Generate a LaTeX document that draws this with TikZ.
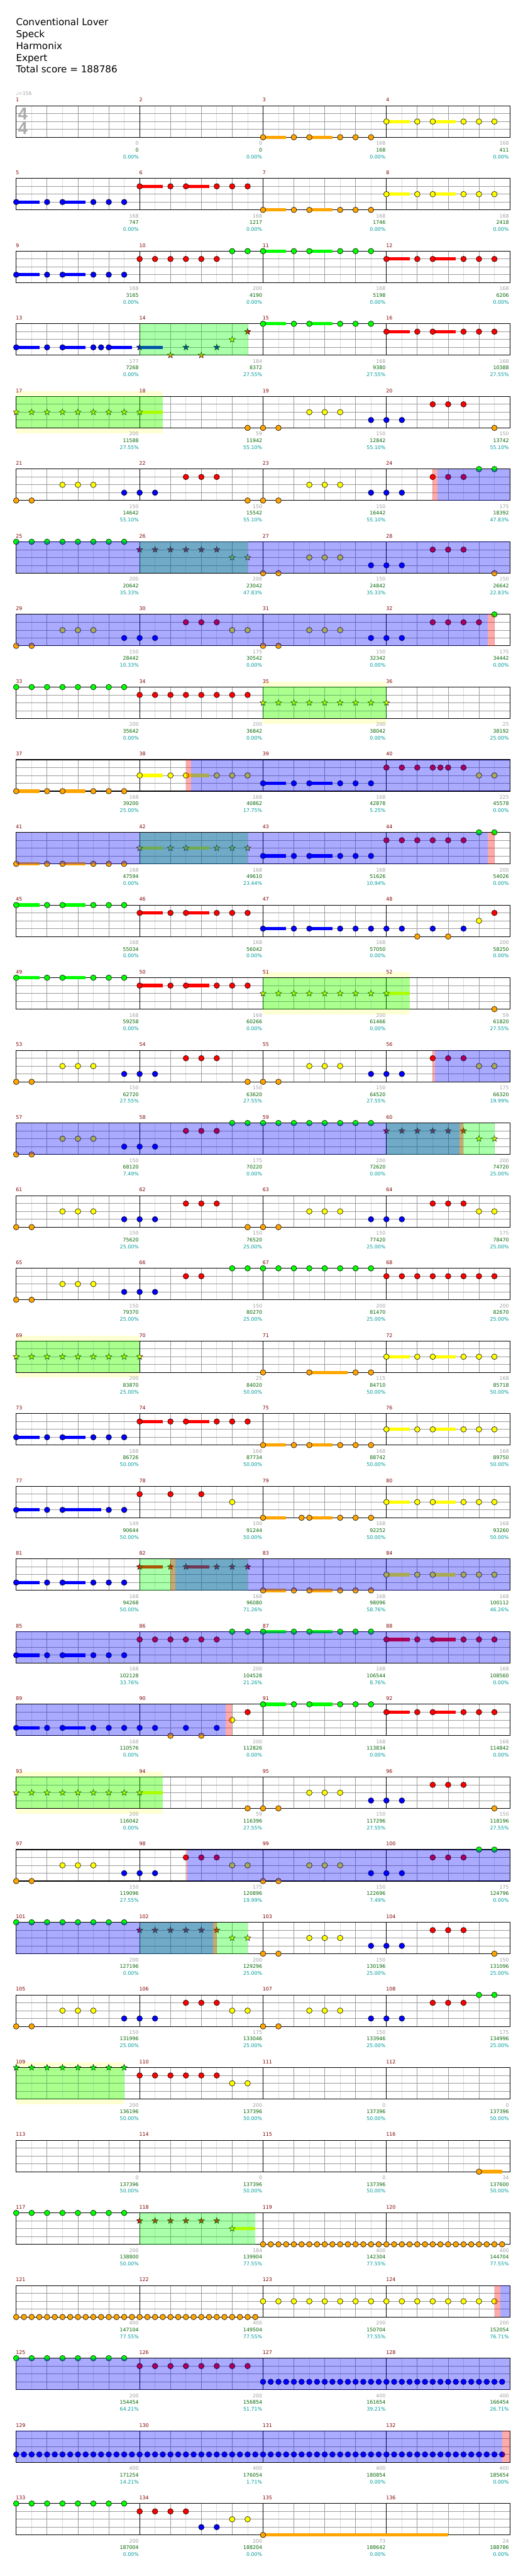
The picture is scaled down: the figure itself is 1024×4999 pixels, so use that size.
\documentclass[tikz,border=0pt]{standalone}
\usepackage{fontspec}
\setmainfont{DejaVu Sans}
\newfontfamily\tsfont{Liberation Sans}
\usetikzlibrary{shapes.geometric}
\definecolor{lane0}{RGB}{0,255,0}
\definecolor{lane1}{RGB}{255,0,0}
\definecolor{lane2}{RGB}{255,255,0}
\definecolor{lane3}{RGB}{0,0,255}
\definecolor{lane4}{RGB}{255,165,0}
\definecolor{gmid}{RGB}{155,155,155}
\definecolor{glight}{RGB}{220,220,220}
\definecolor{labgray}{RGB}{160,160,160}
\definecolor{labgreen}{RGB}{0,100,0}
\definecolor{labteal}{RGB}{0,153,153}
\definecolor{mred}{RGB}{128,0,0}
\definecolor{ybandcol}{RGB}{255,255,212}
\newcommand\lfont{\fontsize{9.6}{10}\selectfont}
\tikzset{
  gl/.style={glight,line width=1pt},
  gm/.style={gmid,line width=1pt},
  gk/.style={black,line width=1pt},
  nstyle/.style={draw=black,line width=0.7pt},
  sstyle/.style={star,star points=5,star point ratio=2.5,minimum size=12.5pt,inner sep=0pt,draw=black,line width=0.6pt},
  mnum/.style={anchor=base west,inner sep=0pt,font=\lfont,text=mred,xshift=-0.8pt},
  lg/.style={anchor=base east,inner sep=0pt,font=\lfont,text=labgray},
  ls/.style={anchor=base east,inner sep=0pt,font=\lfont,text=labgreen},
  lp/.style={anchor=base east,inner sep=0pt,font=\lfont,text=labteal},
  tsig/.style={inner sep=0pt,text=black!33,font=\tsfont\bfseries\fontsize{33.5}{34}\selectfont},
  ttl/.style={anchor=base west,inner sep=0pt,font=\fontsize{18.5}{20}\selectfont}
}
% row handling
\newcommand\RB[1]{\pgfmathsetmacro\rsh{-141*(#1-1)}\pgfmathtruncatemacro\mfirst{4*(#1-1)+1}\begin{scope}[yshift=\rsh pt]}
\newcommand\RE{\end{scope}}
\newcommand\grid{%
  \foreach \k in {1,3,...,31} \draw[gl] (\k,0)--(\k,4);
  \foreach \k in {2,4,6,10,12,14,18,20,22,26,28,30} \draw[gm] (\k,0)--(\k,4);
  \foreach \l in {1,2,3} \draw[gm] (0,\l)--(32,\l);
  \foreach \k in {8,16,24} \draw[gk] (\k,0)--(\k,4);
  \draw[gk,line width=1.3pt] (0,0) rectangle (32,4);
  \foreach \i in {0,1,2,3}{\pgfmathtruncatemacro\mm{\mfirst+\i}\node[mnum] at (8*\i,-0.5) {\mm};}}
% notes
\newcommand\nt[2]{\draw[nstyle,fill=lane#2] ({#1},#2) circle[radius=5.4pt];}
\newcommand\st[2]{\node[sstyle,fill=lane#2] at ({#1},#2) {};}
\newcommand\su[3]{\fill[lane#1] ({#2},#1-0.213) rectangle ({#2+#3},#1+0.213);}
\newcommand\nG[1]{\foreach\e in {#1}{\nt{\e}{0}}}
\newcommand\nR[1]{\foreach\e in {#1}{\nt{\e}{1}}}
\newcommand\nY[1]{\foreach\e in {#1}{\nt{\e}{2}}}
\newcommand\nB[1]{\foreach\e in {#1}{\nt{\e}{3}}}
\newcommand\nO[1]{\foreach\e in {#1}{\nt{\e}{4}}}
\newcommand\sG[1]{\foreach\e in {#1}{\st{\e}{0}}}
\newcommand\sR[1]{\foreach\e in {#1}{\st{\e}{1}}}
\newcommand\sY[1]{\foreach\e in {#1}{\st{\e}{2}}}
\newcommand\sB[1]{\foreach\e in {#1}{\st{\e}{3}}}
\newcommand\sO[1]{\foreach\e in {#1}{\st{\e}{4}}}
\newcommand\dense[3]{\foreach\i in {#2,...,#3}{\nt{\i/2}{#1}}}
\newcommand\pat[2]{\su{#1}{#2}{1.5}\su{#1}{#2+3}{1.5}\foreach\d in {0,2,3,5,6,7}{\nt{#2+\d}{#1}}}
\newcommand\spat[2]{\su{#1}{#2}{1.5}\su{#1}{#2+3}{1.5}\foreach\d in {0,2,3,5,6,7}{\st{#2+\d}{#1}}}
% overlays
\newcommand\yb[2]{\fill[ybandcol] (#1,-0.656) rectangle (#2,4.656);}
\newcommand\ovG[2]{\fill[lane0,fill opacity=0.333] (#1,0) rectangle (#2,4);}
\newcommand\ovB[2]{\fill[lane3,fill opacity=0.333] (#1,0) rectangle (#2,4);}
\newcommand\ovR[2]{\fill[lane1,fill opacity=0.333] (#1,0) rectangle (#2,4);}
\newcommand\labs[1]{\foreach \g/\s/\p [count=\k] in {#1}{%
  \node[lg] at (8*\k-0.05,5.0) {\g};
  \node[ls] at (8*\k-0.05,5.836) {\s};
  \node[lp] at (8*\k-0.05,6.71) {\p\%};}}
\begin{document}
\begin{tikzpicture}[x=29.95pt,y=-15.25pt]
\useasboundingbox (-31.5pt,205.33pt) rectangle (992.5pt,-4793.67pt);
\node[ttl] (title) at (-0.5pt,155.33pt) {Conventional Lover};
\node[ttl] (artist) at (-0.5pt,132.33pt) {Speck};
\node[ttl] (charter) at (-0.5pt,109.33pt) {Harmonix};
\node[ttl] (diff) at (-0.5pt,86.33pt) {Expert};
\node[ttl] (total) at (-0.5pt,64pt) {Total score = 188786};
\node[anchor=base west,inner sep=0pt,font=\fontsize{9.5}{10}\selectfont,text=labgray] (tempo) at (-0.5pt,20.33pt) {♩=156};
% row 1
\RB{1}\grid
\node[tsig] (ts1) at (0.43,1.03) {4}; \node[tsig] (ts2) at (0.43,2.9) {4};
\pat{4}{16}\pat{2}{24}
\labs{0/0/0.00,0/0/0.00,168/168/0.00,168/411/0.00}
\RE
% row 2
\RB{2}\grid
\pat{3}{0}\pat{1}{8}\pat{4}{16}\pat{2}{24}
\labs{168/747/0.00,168/1217/0.00,168/1746/0.00,168/2418/0.00}
\RE
% row 3
\RB{3}\grid
\pat{3}{0}\nR{8,...,13}\nG{14,15}\pat{0}{16}\pat{1}{24}
\labs{168/3165/0.00,200/4190/0.00,168/5198/0.00,168/6206/0.00}
\RE
% row 4
\RB{4}\grid
\su{3}{0}{1.5}\su{3}{3}{1.5}\su{3}{6}{1.5}\nB{0,2,3,5,5.5,6}
\su{3}{8}{1.5}\sB{8,11,13}\sO{10,12}\sY{14}\sR{15}
\pat{0}{16}\pat{1}{24}
\ovG{8}{15.03}
\labs{177/7268/0.00,184/8372/27.55,168/9380/27.55,168/10388/27.55}
\RE
% row 5
\RB{5}\yb{0}{9.5}\grid
\su{2}{8}{1.5}\sY{0,...,8}\nO{15,16,17,31}\nY{19,20,21}\nB{23,24,25}\nR{27,28,29}
\ovG{0}{9.5}
\labs{200/11588/27.55,59/11942/55.10,150/12842/55.10,150/13742/55.10}
\RE
% row 6
\RB{6}\grid
\nO{0,1,15,16,17}\nY{3,4,5,19,20,21}\nB{7,8,9,23,24,25}\nR{11,12,13,27,28,29}\nG{30,31}
\ovR{27}{27.33}\ovB{27.33}{32}
\labs{150/14642/55.10,150/15542/55.10,150/16442/55.10,175/18392/47.83}
\RE
% row 7
\RB{7}\grid
\nG{0,...,7}\sR{8,...,13}\sY{14,15}\nO{16,17,31}\nY{19,20,21}\nB{23,24,25}\nR{27,28,29}
\ovG{8}{15}\ovB{0}{32}
\labs{200/20642/35.33,200/23042/47.83,150/24842/35.33,150/26642/22.83}
\RE
% row 8
\RB{8}\grid
\nO{0,1,16,17}\nY{3,4,5,14,15,19,20,21}\nB{7,8,9,23,24,25}\nR{11,12,13,27,28,29,30}\nG{31}
\ovB{0}{30.58}\ovR{30.58}{31}
\labs{150/28442/10.33,175/30542/0.00,150/32342/0.00,175/34442/0.00}
\RE
% row 9
\RB{9}\yb{16}{24}\grid
\nG{0,...,7}\nR{8,...,15}\sY{16,...,24}
\ovG{16}{24}
\labs{200/35642/0.00,200/36842/0.00,200/38042/0.00,25/38192/25.00}
\RE
% row 10
\RB{10}\grid
\pat{4}{0}\su{2}{8}{1.5}\su{2}{11}{1.5}\nY{8,10,11,13,14,15}\pat{3}{16}\nR{24,25,26,27,27.5,28,29}\nY{30,31}
\ovR{11}{11.33}\ovB{11.33}{32}
\labs{168/39200/25.00,168/40862/17.75,168/42878/5.25,225/45578/0.00}
\RE
% row 11
\RB{11}\grid
\pat{4}{0}\spat{2}{8}\pat{3}{16}\nR{24,...,29}\nG{30,31}
\ovG{8}{15}\ovB{0}{30.58}\ovR{30.58}{31}
\labs{168/47594/0.00,168/49610/23.44,168/51626/10.94,200/54026/0.00}
\RE
% row 12
\RB{12}\grid
\pat{0}{0}\pat{1}{8}\su{3}{16}{1.5}\su{3}{19}{1.5}\nB{16,18,19,21,22,23,24,25,27,29}\nO{26,28}\nY{30}\nR{31}
\labs{168/55034/0.00,168/56042/0.00,168/57050/0.00,200/58250/0.00}
\RE
% row 13
\RB{13}\yb{16}{25.5}\grid
\pat{0}{0}\pat{1}{8}\su{2}{24}{1.5}\sY{16,...,24}\nO{31}
\ovG{16}{25.5}
\labs{168/59258/0.00,168/60266/0.00,200/61466/0.00,59/61820/27.55}
\RE
% row 14
\RB{14}\grid
\nO{0,1,15,16,17}\nY{3,4,5,19,20,21,30,31}\nB{7,8,9,23,24,25}\nR{11,12,13,27,28,29}
\ovR{27}{27.13}\ovB{27.13}{32}
\labs{150/62720/27.55,150/63620/27.55,150/64520/27.55,175/66320/19.99}
\RE
% row 15
\RB{15}\grid
\nO{0,1}\nY{3,4,5}\nB{7,8,9}\nR{11,12,13}\nG{14,...,23}\sR{24,...,29}\sY{30,31}
\ovG{24}{31}\ovB{0}{28.75}\ovR{28.75}{29}
\labs{150/68120/7.49,175/70220/0.00,200/72620/0.00,200/74720/25.00}
\RE
% row 16
\RB{16}\grid
\nO{0,1,15,16,17}\nY{3,4,5,19,20,21,30,31}\nB{7,8,9,23,24,25}\nR{11,12,13,27,28,29}
\labs{150/75620/25.00,150/76520/25.00,150/77420/25.00,175/78470/25.00}
\RE
% row 17
\RB{17}\grid
\nO{0,1}\nY{3,4,5}\nB{7,8,9}\nR{11,12}\nG{14,...,23}\nR{24,...,31}
\labs{150/79370/25.00,150/80270/25.00,200/81470/25.00,200/82670/25.00}
\RE
% row 18
\RB{18}\yb{0}{8}\grid
\sY{0,...,8}\su{4}{19}{2.5}\nO{16,19,22,23}\pat{2}{24}
\ovG{0}{8}
\labs{200/83870/25.00,25/84020/50.00,115/84710/50.00,168/85718/50.00}
\RE
% row 19
\RB{19}\grid
\pat{3}{0}\pat{1}{8}\pat{4}{16}\pat{2}{24}
\labs{168/86726/50.00,168/87734/50.00,168/88742/50.00,168/89750/50.00}
\RE
% row 20
\RB{20}\grid
\su{3}{0}{1.5}\su{3}{3}{2.5}\nB{0,2,3,6,7}\nR{8,10,12}\nY{14}\su{4}{16}{1.5}\su{4}{19}{1.5}\nO{16,18.5,19,21,22,23}\pat{2}{24}
\labs{149/90644/50.00,100/91244/50.00,168/92252/50.00,168/93260/50.00}
\RE
% row 21
\RB{21}\grid
\pat{3}{0}\spat{1}{8}\pat{4}{16}\pat{2}{24}
\ovG{8}{15}\ovR{10}{10.3}\ovB{10.3}{32}
\labs{168/94268/50.00,168/96080/71.26,168/98096/58.76,168/100112/46.26}
\RE
% row 22
\RB{22}\grid
\pat{3}{0}\nR{8,...,13}\nG{14,15}\pat{0}{16}\pat{1}{24}
\ovB{0}{32}
\labs{168/102128/33.76,200/104528/21.26,168/106544/8.76,168/108560/0.00}
\RE
% row 23
\RB{23}\grid
\su{3}{0}{1.5}\su{3}{3}{1.5}\nB{0,2,3,5,6,7,8,9,11,13}\nO{10,12}\nY{14}\nR{15}\pat{0}{16}\pat{1}{24}
\ovB{0}{13.58}\ovR{13.58}{14}
\labs{168/110576/0.00,200/112826/0.00,168/113834/0.00,168/114842/0.00}
\RE
% row 24
\RB{24}\yb{0}{9.5}\grid
\su{2}{8}{1.5}\sY{0,...,8}\nO{15,16,17,31}\nY{19,20,21}\nB{23,24,25}\nR{27,28,29}
\ovG{0}{9.5}
\labs{200/116042/0.00,59/116396/27.55,150/117296/27.55,150/118196/27.55}
\RE
% row 25
\RB{25}\grid
\nO{0,1,16,17}\nY{3,4,5,14,15,19,20,21}\nB{7,8,9,23,24,25}\nR{11,12,13,27,28,29}\nG{30,31}
\ovR{11}{11.1}\ovB{11.1}{32}
\labs{150/119096/27.55,175/120896/19.99,150/122696/7.49,175/124796/0.00}
\RE
% row 26
\RB{26}\grid
\nG{0,...,7}\sR{8,...,13}\sY{14,15}\nO{16,17,31}\nY{19,20,21}\nB{23,24,25}\nR{27,28,29}
\ovG{8}{15}\ovB{0}{12.78}\ovR{12.78}{13}
\labs{200/127196/0.00,200/129296/25.00,150/130196/25.00,150/131096/25.00}
\RE
% row 27
\RB{27}\grid
\nO{0,1,16,17}\nY{3,4,5,14,15,19,20,21}\nB{7,8,9,23,24,25}\nR{11,12,13,27,28,29}\nG{30,31}
\labs{150/131996/25.00,175/133046/25.00,150/133946/25.00,175/134996/25.00}
\RE
% row 28
\RB{28}\yb{0}{7}\grid
\sG{0,...,7}\nR{8,...,13}\nY{14,15}
\ovG{0}{7}
\labs{200/136196/50.00,200/137396/50.00,0/137396/50.00,0/137396/50.00}
\RE
% row 29
\RB{29}\grid
\su{4}{30}{1.5}\nO{30}
\labs{0/137396/50.00,0/137396/50.00,0/137396/50.00,34/137600/50.00}
\RE
% row 30
\RB{30}\grid
\nG{0,...,7}\sR{8,...,13}\su{2}{14}{1.5}\sY{14}\dense{4}{32}{63}
\ovG{8}{15.5}
\labs{200/138800/50.00,184/139904/77.55,400/142304/77.55,400/144704/77.55}
\RE
% row 31
\RB{31}\grid
\dense{4}{0}{31}\nY{16,...,31}
\ovR{31}{31.4}\ovB{31.4}{32}
\labs{400/147104/77.55,400/149504/77.55,200/150704/77.55,200/152054/76.71}
\RE
% row 32
\RB{32}\grid
\nG{0,...,7}\nR{8,...,15}\dense{3}{32}{63}
\ovB{0}{32}
\labs{200/154454/64.21,200/156854/51.71,400/161654/39.21,400/166454/26.71}
\RE
% row 33
\RB{33}\grid
\dense{3}{0}{63}
\ovB{0}{31.5}\ovR{31.5}{32}
\labs{400/171254/14.21,400/176054/1.71,400/180854/0.00,400/185654/0.00}
\RE
% row 34
\RB{34}\grid
\nG{0,...,7}\nR{8,...,11}\nB{12,13}\nY{14,15}\su{4}{16}{12}\nO{16}
\labs{200/187004/0.00,200/188204/0.00,73/188642/0.00,24/188786/0.00}
\RE
\end{tikzpicture}
\end{document}
